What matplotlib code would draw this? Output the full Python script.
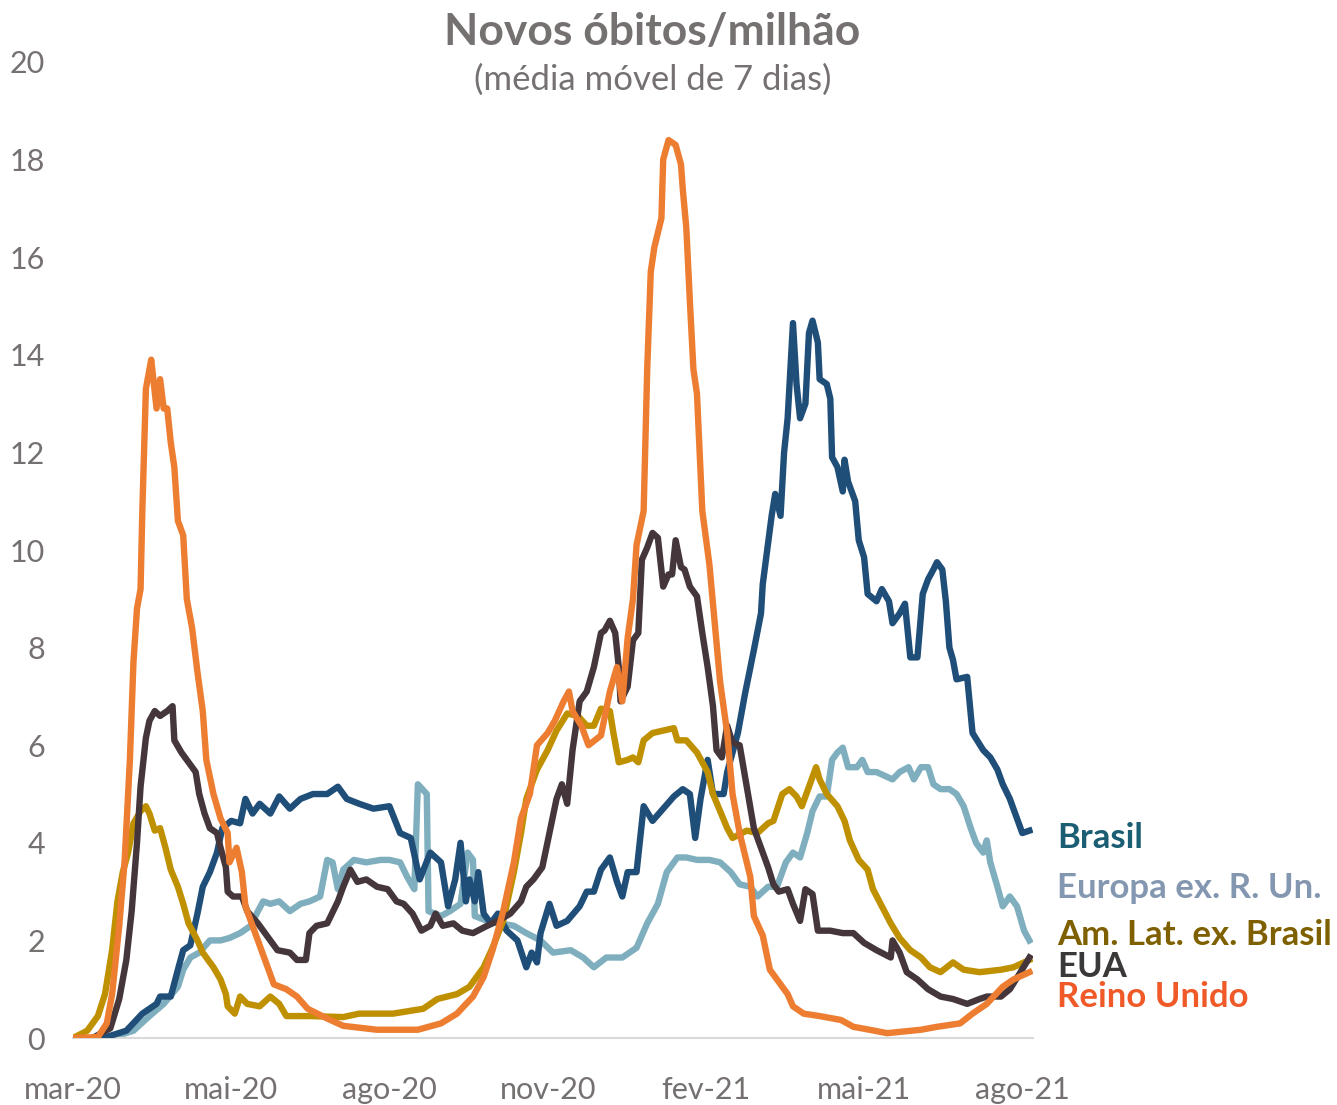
import numpy as np
import matplotlib.pyplot as plt

plt.rcParams['font.family'] = ['Lato', 'DejaVu Sans']

# day index counted from 2020-03-01
tick_days = [0, 89, 178, 267, 356, 445, 534]
tick_labels = ['mar-20', 'mai-20', 'ago-20', 'nov-20', 'fev-21', 'mai-21', 'ago-21']

uk_day = [0, 14, 19, 22, 26, 29, 32, 34, 36, 38, 39, 41, 42, 44, 47, 49, 51, 53, 55, 57,
          59, 62, 64, 67, 70, 73, 75, 79, 83, 87, 88, 92, 95, 97, 101, 105, 109, 113, 120, 126,
          132, 143, 152, 171, 194, 207, 216, 225, 231, 236, 242, 248, 252, 257, 261, 267, 271, 276, 279, 281,
          286, 290, 297, 302, 306, 309, 312, 315, 317, 321, 323, 325, 327, 331, 332, 335, 339, 342, 343, 345,
          347, 349, 351, 354, 358, 364, 368, 371, 375, 381, 383, 388, 392, 398, 402, 405, 411, 420, 432, 439,
          448, 458, 477, 486, 499, 506, 514, 523, 529, 538]
uk_val = [0.0, 0.02, 0.3, 0.9, 2.3, 3.6, 5.7, 7.7, 8.8, 9.2, 10.8, 13.3, 13.5, 13.9, 12.9, 13.5, 12.9, 12.9, 12.2, 11.7,
          10.6, 10.3, 9.0, 8.4, 7.5, 6.7, 5.7, 5.0, 4.5, 4.2, 3.6, 3.9, 3.4, 2.7, 2.3, 1.9, 1.5, 1.1, 1.0, 0.85,
          0.6, 0.4, 0.25, 0.17, 0.17, 0.3, 0.5, 0.85, 1.25, 1.8, 2.6, 3.6, 4.5, 5.0, 6.0, 6.25, 6.5, 6.9, 7.1, 6.7,
          6.4, 6.0, 6.2, 7.1, 7.6, 6.9, 8.2, 9.0, 10.1, 10.8, 13.7, 15.7, 16.2, 16.8, 18.0, 18.4, 18.3, 17.9, 17.4, 16.6,
          15.1, 13.7, 13.2, 10.8, 9.7, 7.3, 6.25, 5.0, 4.2, 3.3, 2.5, 2.1, 1.4, 1.1, 0.9, 0.65, 0.5, 0.45, 0.37, 0.23,
          0.17, 0.1, 0.17, 0.23, 0.3, 0.5, 0.7, 1.05, 1.2, 1.35]

br_day = [17, 30, 39, 47, 49, 55, 59, 62, 66, 70, 73, 77, 81, 84, 89, 94, 97, 101, 105, 111,
          116, 122, 128, 135, 143, 149, 154, 161, 169, 178, 184, 190, 195, 201, 207, 211, 215, 218, 221, 223,
          226, 228, 231, 235, 239, 244, 250, 255, 258, 261, 263, 268, 272, 278, 285, 289, 293, 297, 302, 306,
          309, 312, 317, 321, 326, 332, 338, 343, 347, 350, 353, 357, 360, 366, 368, 374, 378, 383, 387, 388,
          393, 395, 398, 400, 402, 405, 407, 409, 412, 414, 416, 419, 420, 424, 426, 427, 430, 433, 434, 436,
          440, 442, 445, 447, 452, 455, 459, 461, 465, 468, 471, 475, 478, 481, 484, 486, 489, 491, 493, 495,
          497, 503, 506, 512, 516, 520, 523, 527, 531, 534, 538]
br_val = [0.0, 0.15, 0.5, 0.7, 0.85, 0.85, 1.4, 1.8, 1.9, 2.55, 3.1, 3.4, 3.8, 4.3, 4.45, 4.4, 4.9, 4.6, 4.8, 4.6,
          4.95, 4.7, 4.9, 5.0, 5.0, 5.15, 4.9, 4.8, 4.7, 4.75, 4.2, 4.1, 3.25, 3.8, 3.6, 2.7, 3.25, 4.0, 2.8, 3.25,
          2.8, 3.4, 2.55, 2.35, 2.55, 2.2, 2.0, 1.45, 1.75, 1.55, 2.15, 2.75, 2.3, 2.4, 2.7, 3.0, 3.0, 3.45, 3.7, 3.2,
          2.9, 3.4, 3.4, 4.75, 4.45, 4.7, 4.95, 5.1, 5.0, 4.1, 4.9, 5.7, 5.0, 5.0, 5.45, 6.25, 7.05, 7.95, 8.7, 9.3,
          10.7, 11.15, 10.7, 12.0, 12.7, 14.65, 13.4, 12.7, 13.0, 14.45, 14.7, 14.25, 13.5, 13.4, 13.1, 11.9, 11.7, 11.2, 11.85, 11.4,
          11.0, 10.2, 9.85, 9.1, 8.95, 9.2, 8.95, 8.5, 8.7, 8.9, 7.8, 7.8, 9.1, 9.4, 9.6, 9.75, 9.6, 8.95, 8.0, 7.75,
          7.35, 7.4, 6.25, 5.9, 5.75, 5.5, 5.2, 4.9, 4.5, 4.2, 4.25]

us_day = [11, 21, 26, 30, 33, 36, 38, 41, 43, 46, 49, 53, 56, 57, 61, 65, 69, 71, 74, 77,
          81, 83, 86, 87, 90, 95, 98, 104, 109, 115, 122, 126, 131, 133, 137, 143, 149, 152, 156, 160,
          165, 171, 177, 182, 186, 191, 196, 201, 204, 208, 214, 219, 225, 233, 239, 246, 252, 255, 259, 264,
          268, 272, 275, 278, 281, 285, 289, 293, 297, 299, 302, 305, 307, 308, 312, 315, 318, 320, 323, 326,
          329, 332, 335, 337, 339, 342, 344, 347, 351, 354, 357, 360, 362, 365, 368, 371, 375, 379, 383, 387,
          391, 394, 397, 402, 405, 409, 412, 416, 419, 426, 433, 439, 445, 452, 460, 461, 465, 469, 475, 481,
          488, 495, 503, 510, 514, 522, 527, 533, 538]
us_val = [0.0, 0.2, 0.8, 1.6, 2.6, 4.0, 5.15, 6.15, 6.5, 6.7, 6.6, 6.7, 6.8, 6.1, 5.85, 5.65, 5.45, 5.0, 4.6, 4.3,
          4.2, 3.9, 3.5, 3.0, 2.9, 2.9, 2.6, 2.35, 2.1, 1.8, 1.75, 1.6, 1.6, 2.15, 2.3, 2.35, 2.8, 3.1, 3.45, 3.2,
          3.25, 3.1, 3.05, 2.8, 2.75, 2.55, 2.2, 2.3, 2.55, 2.3, 2.35, 2.2, 2.15, 2.3, 2.4, 2.55, 2.8, 3.1, 3.25, 3.5,
          4.2, 4.9, 5.2, 4.8, 5.9, 6.9, 7.1, 7.6, 8.3, 8.35, 8.55, 8.3, 7.6, 6.9, 7.2, 8.15, 8.3, 9.8, 10.05, 10.35,
          10.25, 9.25, 9.5, 9.5, 10.2, 9.65, 9.6, 9.25, 9.05, 8.3, 7.6, 6.8, 5.9, 5.75, 6.4, 6.05, 6.0, 5.15, 4.3, 3.9,
          3.5, 3.15, 3.0, 3.05, 2.75, 2.4, 3.05, 2.95, 2.2, 2.2, 2.15, 2.15, 1.95, 1.8, 1.65, 2.0, 1.75, 1.35, 1.2, 1.0,
          0.85, 0.8, 0.7, 0.8, 0.85, 0.85, 1.0, 1.35, 1.65]

latam_day = [0, 8, 14, 18, 22, 25, 28, 31, 34, 38, 41, 43, 46, 49, 52, 55, 59, 62, 65, 70,
             73, 79, 83, 86, 87, 91, 94, 98, 105, 111, 116, 120, 133, 152, 161, 180, 197, 205, 216, 223,
             231, 236, 242, 248, 252, 255, 261, 267, 272, 278, 284, 289, 293, 297, 302, 304, 307, 312, 315, 318,
             321, 326, 332, 338, 340, 345, 351, 357, 360, 364, 368, 371, 379, 385, 391, 394, 399, 403, 407, 410,
             414, 418, 420, 424, 430, 434, 437, 442, 447, 450, 455, 460, 465, 471, 477, 482, 488, 495, 501, 510,
             522, 529, 538]
latam_val = [0.0, 0.15, 0.45, 0.9, 1.8, 2.8, 3.4, 3.8, 4.4, 4.65, 4.75, 4.6, 4.25, 4.3, 3.9, 3.45, 3.1, 2.75, 2.35, 2.0,
             1.75, 1.45, 1.2, 0.9, 0.65, 0.5, 0.85, 0.7, 0.65, 0.85, 0.7, 0.45, 0.45, 0.43, 0.5, 0.5, 0.6, 0.8, 0.9, 1.05,
             1.45, 1.85, 2.4, 3.4, 4.2, 4.9, 5.5, 5.9, 6.3, 6.65, 6.6, 6.4, 6.4, 6.75, 6.7, 6.25, 5.65, 5.7, 5.75, 5.65,
             6.1, 6.25, 6.3, 6.35, 6.1, 6.1, 5.85, 5.45, 5.0, 4.65, 4.3, 4.1, 4.25, 4.2, 4.4, 4.45, 5.0, 5.1, 4.95, 4.75,
             5.15, 5.55, 5.3, 5.0, 4.75, 4.45, 4.05, 3.65, 3.45, 3.05, 2.7, 2.35, 2.05, 1.8, 1.65, 1.45, 1.35, 1.55, 1.4, 1.35,
             1.4, 1.45, 1.6]

eu_day = [21, 34, 43, 51, 59, 62, 66, 71, 77, 83, 88, 94, 100, 104, 107, 111, 116, 122, 128, 133,
          139, 143, 146, 149, 152, 158, 165, 173, 178, 184, 188, 192, 194, 199, 200, 207, 212, 218, 222, 225,
          226, 233, 240, 248, 255, 263, 270, 280, 287, 293, 300, 309, 317, 323, 329, 334, 340, 345, 351, 358,
          364, 370, 375, 381, 385, 391, 396, 401, 405, 409, 413, 416, 420, 424, 427, 430, 433, 436, 441, 444,
          447, 452, 458, 461, 465, 470, 473, 477, 481, 484, 488, 493, 497, 501, 505, 508, 512, 514, 516, 520,
          523, 527, 531, 535, 538]
eu_val = [0.0, 0.15, 0.45, 0.7, 1.05, 1.4, 1.65, 1.75, 2.0, 2.0, 2.05, 2.15, 2.3, 2.6, 2.8, 2.75, 2.8, 2.6, 2.75, 2.8,
          2.9, 3.65, 3.6, 3.05, 3.45, 3.65, 3.6, 3.65, 3.65, 3.6, 3.3, 3.05, 5.2, 5.0, 2.6, 2.5, 2.6, 2.75, 3.8, 3.65,
          2.5, 2.4, 2.35, 2.3, 2.15, 2.0, 1.75, 1.8, 1.65, 1.45, 1.65, 1.65, 1.85, 2.35, 2.75, 3.4, 3.7, 3.7, 3.65, 3.65,
          3.6, 3.4, 3.15, 3.1, 2.9, 3.1, 3.1, 3.6, 3.8, 3.7, 4.2, 4.65, 4.95, 4.95, 5.7, 5.85, 5.95, 5.55, 5.55, 5.7,
          5.45, 5.45, 5.35, 5.3, 5.45, 5.55, 5.3, 5.55, 5.55, 5.2, 5.1, 5.1, 5.0, 4.75, 4.3, 4.0, 3.8, 4.05, 3.6, 3.1,
          2.7, 2.9, 2.7, 2.2, 2.0]

gray = '#767171'

fig = plt.figure(figsize=(13.37, 11.05), dpi=100)
ax = fig.add_axes([0.0546, 0.0606, 0.718, 0.8833])

ax.plot(eu_day, eu_val, color='#7FAFBE', lw=4.6, zorder=2, solid_joinstyle='round')
ax.plot(br_day, br_val, color='#1F4E79', lw=4.6, zorder=3, solid_joinstyle='round')
ax.plot(latam_day, latam_val, color='#BF9000', lw=4.6, zorder=4, solid_joinstyle='round')
ax.plot(us_day, us_val, color='#44363A', lw=4.6, zorder=5, solid_joinstyle='round')
ax.plot(uk_day, uk_val, color='#ED7D31', lw=4.6, zorder=6, solid_joinstyle='round')

ax.set_xlim(0, 540)
ax.set_ylim(0, 20)
ax.set_yticks(range(0, 21, 2))
ax.set_xticks(tick_days)
ax.set_xticklabels(tick_labels)
ax.tick_params(axis='both', length=0, labelsize=22, colors=gray)
ax.tick_params(axis='y', pad=20)
ax.tick_params(axis='x', pad=27)
for s in ['top', 'right', 'left']:
    ax.spines[s].set_visible(False)
ax.spines['bottom'].set_color('#D9D9D9')
ax.spines['bottom'].set_linewidth(1.5)

labels = [('Brasil', 4.1, '#1B5E74'),
          ('Europa ex. R. Un.', 3.07, '#8497B0'),
          ('Am. Lat. ex. Brasil', 2.11, '#7F6000'),
          ('EUA', 1.45, '#3B3838'),
          ('Reino Unido', 0.84, '#F05A28')]
for txt, yv, c in labels:
    ax.text(1.025, yv, txt, transform=ax.get_yaxis_transform(), color=c,
            fontsize=25, fontweight='bold', ha='left', va='center', clip_on=False)

fig.text(0.488, 1 - 32 / 1105, 'Novos óbitos/milhão', ha='center', va='center',
         fontsize=32, fontweight='bold', color=gray)
fig.text(0.488, 1 - 80 / 1105, '(média móvel de 7 dias)', ha='center', va='center',
         fontsize=25, color=gray)

plt.savefig('out.png', dpi=100)
